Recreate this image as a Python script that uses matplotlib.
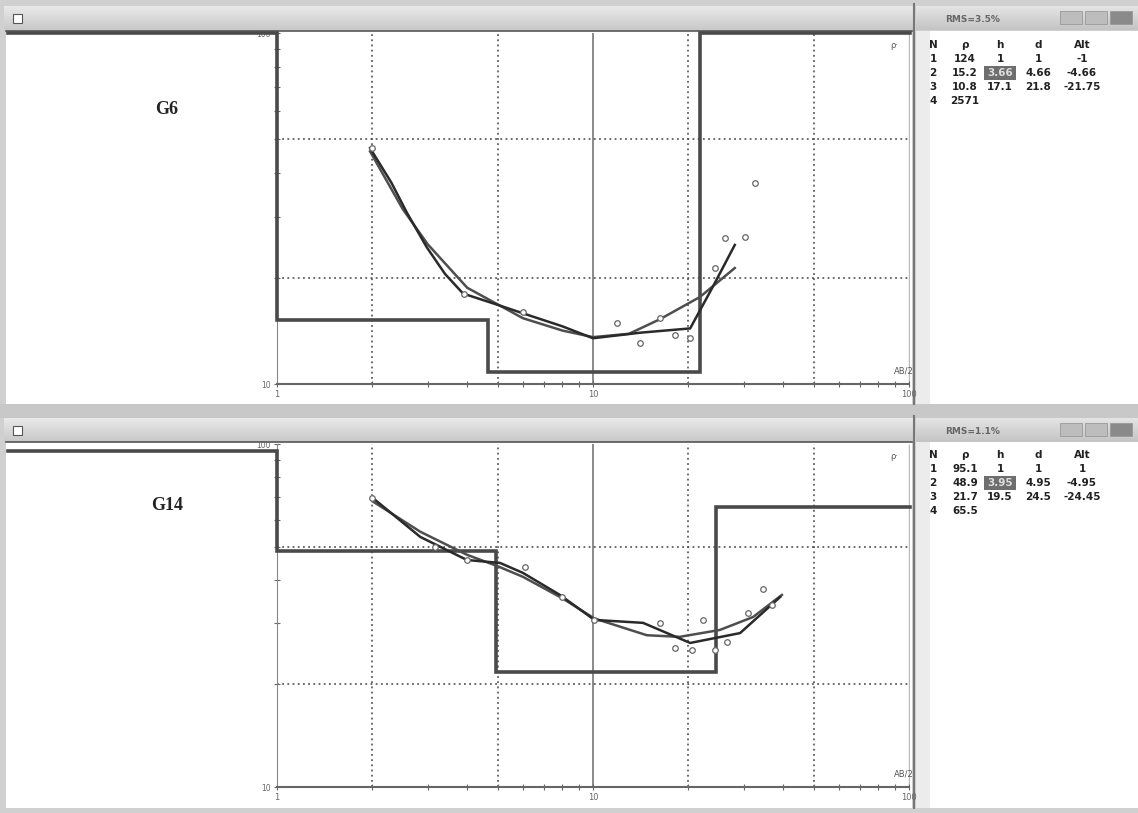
import numpy as np
import matplotlib
matplotlib.use('Agg')
import matplotlib.pyplot as plt
from matplotlib.patches import Rectangle

# ---------------- data ----------------
# G6 (top panel)
g6_obs_ab = [2.0, 3.9, 6.0, 11.9, 14.1, 16.3, 18.2, 20.3, 24.3, 26.2, 30.3, 32.6]
g6_obs_rho = [47.0, 18.1, 16.0, 14.9, 13.1, 15.4, 13.8, 13.5, 21.4, 26.1, 26.2, 37.4]
g6_fit_ab = [1.97, 2.3, 2.58, 2.98, 3.4, 3.88, 5.0, 6.0, 8.0, 10.0, 14.1, 20.3, 24.0, 28.1]
g6_fit_rho = [47.0, 37.5, 30.7, 24.5, 20.6, 18.1, 16.8, 15.9, 14.6, 13.5, 14.0, 14.4, 19.0, 24.9]
g6_mod_ab = [1.97, 2.5, 3.0, 4.0, 6.0, 8.0, 10.0, 13.0, 16.3, 21.8, 28.1]
g6_mod_rho = [46.0, 31.5, 25.0, 18.8, 15.4, 14.2, 13.6, 13.9, 15.3, 17.7, 21.4]
g6_res = [124, 15.2, 10.8, 2571]
g6_h = [1, 3.66, 17.1]
g6_d = [1, 4.66, 21.8]
g6_alt = [-1, -4.66, -21.75]

# G14 (bottom panel)
g14_obs_ab = [2.0, 3.16, 4.0, 6.1, 8.0, 10.1, 16.3, 18.2, 20.6, 22.3, 24.3, 26.5, 30.9, 34.5, 36.8]
g14_obs_rho = [69.6, 50.1, 45.9, 43.8, 35.8, 30.7, 30.1, 25.4, 25.1, 30.7, 25.1, 26.5, 32.1, 37.8, 34.0]
g14_fit_ab = [2.01, 2.84, 3.99, 5.08, 6.0, 7.86, 10.1, 14.4, 20.3, 29.2, 39.1]
g14_fit_rho = [69.6, 53.6, 45.9, 45.0, 42.1, 36.3, 30.7, 30.1, 26.3, 28.1, 35.8]
g14_mod_ab = [2.01, 2.84, 4.0, 5.0, 6.0, 8.0, 10.1, 14.8, 18.8, 25.2, 32.1, 39.6]
g14_mod_rho = [68.0, 55.5, 47.5, 44.0, 41.0, 35.5, 31.0, 27.7, 27.4, 28.7, 31.3, 36.3]
g14_res = [95.1, 48.9, 21.7, 65.5]
g14_h = [1, 3.95, 19.5]
g14_d = [1, 4.95, 24.5]
g14_alt = [1, -4.95, -24.45]

x_ticks = [1, 10, 100]
x_grid = [2, 5, 20, 50]
y_grid = [20, 50]

# ---------------- figure ----------------
W, H = 1138, 813
fig = plt.figure(figsize=(W / 100, H / 100), dpi=100)
fig.patch.set_facecolor('#d4d4d4')
bg = fig.add_axes([0, 0, 1, 1])
bg.set_xlim(0, W)
bg.set_ylim(H, 0)
bg.axis('off')

def rect(x0, y0, x1, y1, fc, ec='none', lw=0, z=1):
    bg.add_patch(Rectangle((x0, y0), x1 - x0, y1 - y0, facecolor=fc,
                           edgecolor=ec, linewidth=lw, zorder=z))

# window chrome
rect(0, 0, W, H, '#d0d0d0', z=0)
for (ty, py0, py1) in [(6, 31, 404), (418, 442, 808)]:
    for i in range(12):
        c = 0.91 - i * 0.011
        rect(4, ty + i * 2, 913, ty + i * 2 + 2, (c, c, c), z=1)
    rect(13, ty + 8, 22, ty + 17, 'white', ec='#555', lw=0.8, z=2)
    rect(6, py0, 912, py1, 'white', z=1)
    bg.plot([6, 912], [py0, py0], color='#555', lw=1.2, zorder=3)
    for i in range(12):
        c = 0.89 - i * 0.011
        rect(916, ty + i * 2, W, ty + i * 2 + 2, (c, c, c), z=1)
    rect(916, py0, W, py1, 'white', z=1)
    rect(916, py0, 930, py1, '#ececec', z=1)
    bg.plot([914, 914], [ty - 2, py1], color='#777', lw=1.5, zorder=3)
    for k, bx in enumerate([1060, 1085, 1110]):
        rect(bx, ty + 5, bx + 22, ty + 18, '#bdbdbd' if k < 2 else '#8a8a8a',
             ec='#999', lw=0.6, z=2)
rect(0, 404, W, 418, '#c8c8c8', z=1)

# ---------------- plots ----------------
px_x1, dec_x = 277, 316
xl = (10 ** ((8 - px_x1) / dec_x), 10 ** ((910 - px_x1) / dec_x))

def make_panel(top_px, bot_px, label, label_y, obs_ab, obs_rho, fit_ab, fit_rho,
               mod_ab, mod_rho, res, depth):
    ax = fig.add_axes([8 / W, 1 - bot_px / H, (910 - 8) / W, (bot_px - top_px) / H])
    ax.set_facecolor('none')
    ax.set_xscale('log')
    ax.set_yscale('log')
    ax.set_xlim(*xl)
    ax.set_ylim(10, 100)
    for s in ['top', 'right']:
        ax.spines[s].set_visible(False)
    ax.spines['left'].set_position(('data', 1))
    ax.spines['left'].set_color('#888')
    ax.spines['bottom'].set_bounds(1, 100)
    ax.spines['bottom'].set_color('#666')
    ax.spines['bottom'].set_linewidth(1.5)
    ax.set_xticks(x_ticks)
    ax.set_xticklabels([str(t) for t in x_ticks], fontsize=6, color='#555')
    ax.set_xticks([v * m for v in [1, 10] for m in range(2, 10)], minor=True)
    ax.set_xticklabels([], minor=True)
    ax.set_yticks([10, 100])
    ax.set_yticklabels(['10', '100'], fontsize=5.5, color='#555')
    ax.set_yticks([v * m for v in [10] for m in range(2, 10)], minor=True)
    ax.set_yticklabels([], minor=True)
    ax.tick_params(axis='both', which='both', direction='inout', colors='#666',
                   length=5, width=0.8, pad=2)
    ax.tick_params(axis='both', which='minor', length=4)
    for g in x_grid:
        ax.vlines(g, 10, 100, colors='#444', linestyles=(0, (1.2, 2.2)), lw=1.1, zorder=1)
    ax.vlines(10, 10, 100, colors='#777', lw=1.2, zorder=1)
    for g in y_grid:
        ax.hlines(g, 1, 100, colors='#444', linestyles=(0, (1.2, 2.2)), lw=1.1, zorder=1)
    ax.vlines(100, 10, 100, colors='#bbb', lw=1.0, zorder=1)
    xs = [xl[0]]
    ys = [min(res[0], 100)]
    for i, d in enumerate(depth):
        xs += [d, d]
        ys += [min(res[i], 100), min(res[i + 1], 100)]
    xs.append(xl[1])
    ys.append(min(res[-1], 100))
    ax.plot(xs, ys, color='#4a4a4a', lw=2.6, zorder=3, clip_on=False,
            solid_joinstyle='miter')
    ax.plot(mod_ab, mod_rho, color='#4e4e4e', lw=1.8, zorder=4)
    ax.plot(fit_ab, fit_rho, color='#2a2a2a', lw=1.8, zorder=5)
    ax.plot(obs_ab, obs_rho, 'o', ms=4, mfc='white', mec='#666', mew=0.9, zorder=6)
    ax.text(90, 95, 'ρ·', fontsize=6, color='#555', ha='center', va='top')
    ax.text(96, 10.6, 'AB/2', fontsize=6, color='#555', ha='center', va='bottom')
    bg.text(167, label_y, label, fontsize=13, fontweight='bold', family='Liberation Serif',
            color='#222', ha='center', va='center', zorder=5)
    return ax

make_panel(33, 384, 'G6', 110, g6_obs_ab, g6_obs_rho, g6_fit_ab, g6_fit_rho,
           g6_mod_ab, g6_mod_rho, g6_res, g6_d)
make_panel(444, 787, 'G14', 505, g14_obs_ab, g14_obs_rho, g14_fit_ab, g14_fit_rho,
           g14_mod_ab, g14_mod_rho, g14_res, g14_d)

# ---------------- tables ----------------
col_x = [933, 965, 1000, 1038, 1082]
headers = ['N', 'ρ', 'h', 'd', 'Alt']

def fmt(v):
    return ('%g' % v)

def table(ty, hy, title, res, h, d, alt):
    kw = dict(fontsize=7.5, color='#222', ha='center', va='center', zorder=5,
              fontweight='bold')
    bg.text(945, ty + 13, title, fontsize=6.5, color='#666', va='center', zorder=5,
            fontweight='bold')
    for cx, t in zip(col_x, headers):
        bg.text(cx, hy, t, **kw)
    for i in range(4):
        y = hy + 14 * (i + 1)
        bg.text(col_x[0], y, str(i + 1), **kw)
        bg.text(col_x[1], y, fmt(res[i]), **kw)
        if i < 3:
            if i == 1:
                rect(col_x[2] - 16, y - 7, col_x[2] + 16, y + 7, '#6e6e6e', z=4)
                kw2 = dict(kw)
                kw2['color'] = '#dddddd'
                bg.text(col_x[2], y, fmt(h[i]), **kw2)
            else:
                bg.text(col_x[2], y, fmt(h[i]), **kw)
            bg.text(col_x[3], y, fmt(d[i]), **kw)
            bg.text(col_x[4], y, fmt(alt[i]), **kw)

table(6, 45, 'RMS=3.5%', g6_res, g6_h, g6_d, g6_alt)
table(418, 455, 'RMS=1.1%', g14_res, g14_h, g14_d, g14_alt)

fig.savefig('out.png', dpi=100, facecolor=fig.get_facecolor())
